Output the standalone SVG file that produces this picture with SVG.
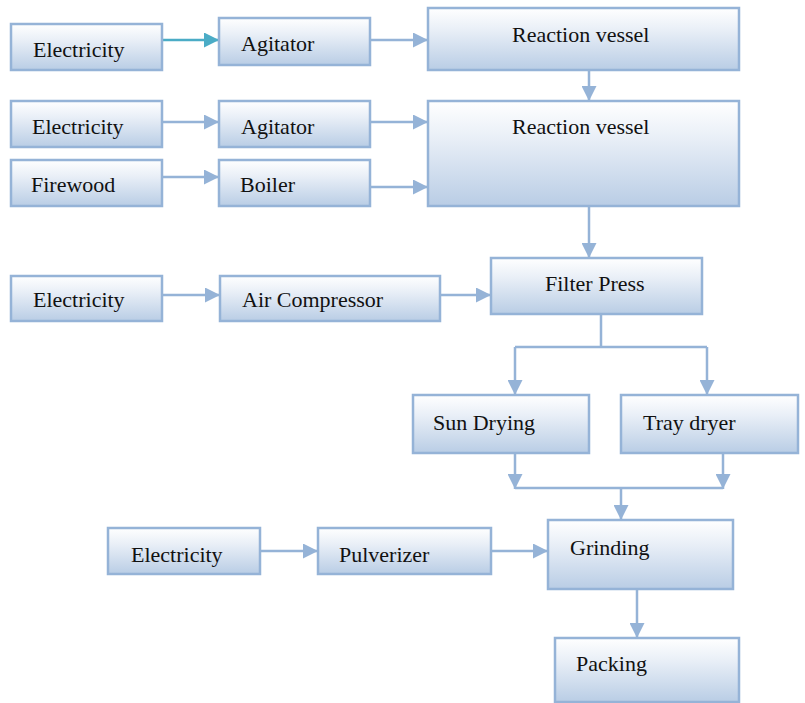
<svg xmlns="http://www.w3.org/2000/svg" width="805" height="703" viewBox="0 0 805 703">
<defs>
<linearGradient id="g" x1="0" y1="0" x2="0" y2="1">
<stop offset="0" stop-color="#ffffff"/>
<stop offset="0.35" stop-color="#e9eff7"/>
<stop offset="1" stop-color="#b9cde5"/>
</linearGradient>
<marker id="a" viewBox="0 0 10 10" refX="10" refY="5" markerWidth="6" markerHeight="6" markerUnits="strokeWidth" orient="auto">
<path d="M0,0 L10,5 L0,10 z" fill="#95b3d7"/>
</marker>
<marker id="at" viewBox="0 0 10 10" refX="10" refY="5" markerWidth="6" markerHeight="6" markerUnits="strokeWidth" orient="auto">
<path d="M0,0 L10,5 L0,10 z" fill="#4bacc6"/>
</marker>
</defs>
<style>
rect{fill:url(#g);stroke:#95b3d7;stroke-width:2.5}
.t{font-family:'Liberation Serif','DejaVu Serif',serif;font-size:22px;fill:#111}
.c line,.c path{stroke:#95b3d7;stroke-width:2.5;fill:none}
</style>
<g class="c" id="connectors">
<line x1="162" y1="40" x2="219" y2="40" style="stroke:#4bacc6" marker-end="url(#at)"/>
<line x1="370" y1="40" x2="428" y2="40" marker-end="url(#a)"/>
<line x1="589" y1="70" x2="589" y2="101" marker-end="url(#a)"/>
<line x1="162" y1="122" x2="219" y2="122" marker-end="url(#a)"/>
<line x1="370" y1="122" x2="428" y2="122" marker-end="url(#a)"/>
<line x1="162" y1="177" x2="219" y2="177" marker-end="url(#a)"/>
<line x1="370" y1="187" x2="428" y2="187" marker-end="url(#a)"/>
<line x1="589" y1="206" x2="589" y2="258" marker-end="url(#a)"/>
<line x1="162" y1="295" x2="220" y2="295" marker-end="url(#a)"/>
<line x1="440" y1="295" x2="491" y2="295" marker-end="url(#a)"/>
<path d="M601,314 V347 M515,347 H707"/>
<line x1="515" y1="347" x2="515" y2="395" marker-end="url(#a)"/>
<line x1="707" y1="347" x2="707" y2="395" marker-end="url(#a)"/>
<line x1="515" y1="453" x2="515" y2="489" marker-end="url(#a)"/>
<line x1="723" y1="453" x2="723" y2="489" marker-end="url(#a)"/>
<path d="M515,488 H723"/>
<line x1="621" y1="488" x2="621" y2="520" marker-end="url(#a)"/>
<line x1="260" y1="551" x2="318" y2="551" marker-end="url(#a)"/>
<line x1="491" y1="551" x2="548" y2="551" marker-end="url(#a)"/>
<line x1="637" y1="589" x2="637" y2="638" marker-end="url(#a)"/>
</g>
<g class="t" font-family="'Liberation Serif','DejaVu Serif',serif">
<g id="elec1"><rect x="11" y="24" width="151" height="46"/><text x="33" y="57">Electricity</text></g>
<g id="agit1"><rect x="219" y="18" width="151" height="47"/><text x="241" y="51">Agitator</text></g>
<g id="rv1"><rect x="428" y="8" width="311" height="62"/><text x="512" y="42">Reaction vessel</text></g>
<g id="elec2"><rect x="11" y="101" width="151" height="46"/><text x="32" y="134">Electricity</text></g>
<g id="agit2"><rect x="219" y="101" width="151" height="46"/><text x="241" y="134">Agitator</text></g>
<g id="rv2"><rect x="428" y="101" width="311" height="105"/><text x="512" y="134">Reaction vessel</text></g>
<g id="firewood"><rect x="11" y="160" width="151" height="46"/><text x="31" y="192">Firewood</text></g>
<g id="boiler"><rect x="219" y="160" width="151" height="46"/><text x="240" y="192">Boiler</text></g>
<g id="elec3"><rect x="11" y="276" width="151" height="45"/><text x="33" y="307">Electricity</text></g>
<g id="aircomp"><rect x="220" y="276" width="220" height="45"/><text x="242" y="307">Air Compressor</text></g>
<g id="filter"><rect x="491" y="258" width="211" height="56"/><text x="545" y="291">Filter Press</text></g>
<g id="sun"><rect x="413" y="395" width="176" height="58"/><text x="433" y="430">Sun Drying</text></g>
<g id="tray"><rect x="621" y="395" width="177" height="58"/><text x="643" y="430">Tray dryer</text></g>
<g id="elec4"><rect x="108" y="528" width="152" height="46"/><text x="131" y="562">Electricity</text></g>
<g id="pulv"><rect x="318" y="528" width="173" height="46"/><text x="339" y="562">Pulverizer</text></g>
<g id="grind"><rect x="548" y="520" width="185" height="69"/><text x="570" y="555">Grinding</text></g>
<g id="pack"><rect x="555" y="638" width="184" height="64"/><text x="576" y="671">Packing</text></g>
</g>
</svg>
